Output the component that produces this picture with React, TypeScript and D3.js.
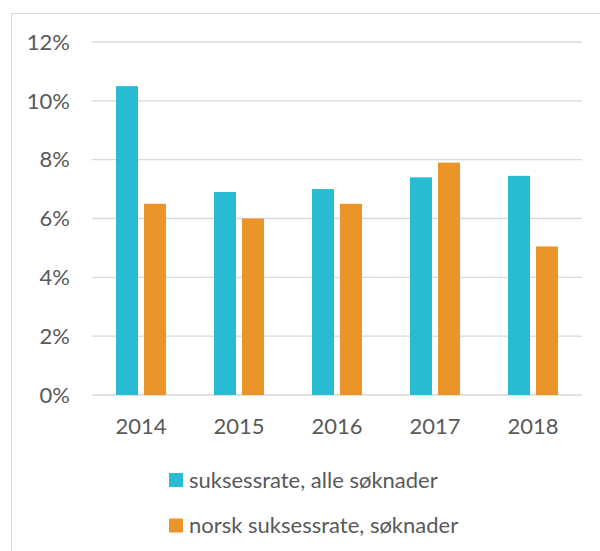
import React from "react";
import * as d3 from "d3";

const years = ["2014", "2015", "2016", "2017", "2018"];
const alleSoknader = [10.5, 6.9, 7.0, 7.4, 7.45];
const norskSoknader = [6.5, 6.0, 6.5, 7.9, 5.05];
const yTicks = [0, 2, 4, 6, 8, 10, 12];
const seriesNames = ["suksessrate, alle søknader", "norsk suksessrate, søknader"];
const colors = ["#27BCD2", "#EB9429"];

export default function App() {
  const W = 600, H = 551;
  const left = 92, right = 582, top = 42, bottom = 395;
  const x = d3.scaleBand().domain(years).range([left, right]).paddingInner(0).paddingOuter(0);
  const y = d3.scaleLinear().domain([0, 12]).range([bottom, top]);
  const barW = 22, gap = 6;
  const font = "Lato, 'Open Sans', sans-serif";
  const fs = 22;
  const series = [alleSoknader, norskSoknader];
  return (
    <svg width={W} height={H} style={{ position: "absolute", left: 0, top: 0, background: "#fff" }}>
      <rect x={11.5} y={13.5} width={W} height={H} fill="#fff" stroke="#D9D9D9" strokeWidth={1} />
      {yTicks.map((t) => (
        <g key={t}>
          <line x1={left} x2={right} y1={y(t)} y2={y(t)} stroke="#D9D9D9" strokeWidth={1.3} />
          <text x={70} y={y(t)} dy="0.35em" textAnchor="end" fontFamily={font} fontSize={fs} fill="#595959">
            {d3.format(".0f")(t) + "%"}
          </text>
        </g>
      ))}
      {years.map((yr, i) => {
        const c = (x(yr) as number) + x.bandwidth() / 2;
        return (
          <g key={yr}>
            {series.map((s, k) => {
              const bx = k === 0 ? c - gap / 2 - barW : c + gap / 2;
              return (
                <rect key={k} x={bx} y={y(s[i])} width={barW} height={y(0) - y(s[i])} fill={colors[k]} />
              );
            })}
            <text x={c} y={426} dy="0.35em" textAnchor="middle" fontFamily={font} fontSize={fs} fill="#595959">
              {yr}
            </text>
          </g>
        );
      })}
      {seriesNames.map((n, k) => (
        <g key={n}>
          <rect x={169} y={473 + k * 45.5} width={14} height={14} fill={colors[k]} />
          <text x={189} y={480 + k * 45.5} dy="0.35em" fontFamily={font} fontSize={fs} fill="#595959">
            {n}
          </text>
        </g>
      ))}
    </svg>
  );
}
